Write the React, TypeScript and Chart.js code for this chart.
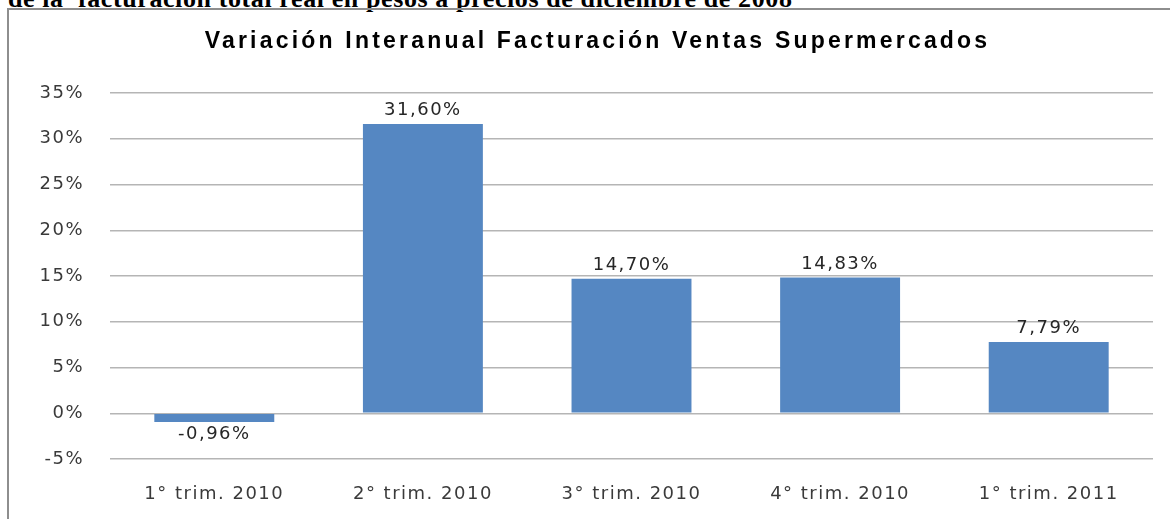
import React, { useEffect, useRef } from "react";
import { Chart, registerables } from "chart.js";

Chart.register(...registerables);

const categories = ["1° trim. 2010", "2° trim. 2010", "3° trim. 2010", "4° trim. 2010", "1° trim. 2011"];
const values = [-0.96, 31.6, 14.7, 14.83, 7.79];
const valueLabels = ["-0,96%", "31,60%", "14,70%", "14,83%", "7,79%"];
const chartTitle = "Variación Interanual Facturación Ventas Supermercados";
const headerText = "de la  facturación total real en pesos a precios de diciembre de 2008";
const yMin = -5;
const yMax = 35;
const yStep = 5;

const TICK_FONT = { family: "'DejaVu Sans', sans-serif", size: 18 };

const spacingPlugin = {
  id: "spacing",
  beforeLayout(chart: any) {
    (chart.ctx as any).letterSpacing = "1.5px";
  },
  beforeDraw(chart: any) {
    (chart.ctx as any).letterSpacing = "1.5px";
  },
};

const titlePlugin = {
  id: "customTitle",
  afterDraw(chart: any) {
    const ctx = chart.ctx;
    ctx.save();
    (ctx as any).letterSpacing = "3.2px";
    ctx.font = "bold 23px 'Liberation Sans', Arial, sans-serif";
    ctx.fillStyle = "#000";
    ctx.textAlign = "center";
    ctx.textBaseline = "middle";
    const cx = (chart.chartArea.left + chart.chartArea.right) / 2 - 34;
    ctx.fillText(chartTitle, cx, 42);
    ctx.restore();
  },
};

const dataLabelPlugin = {
  id: "dataLabels",
  afterDatasetsDraw(chart: any) {
    const ctx = chart.ctx;
    const meta = chart.getDatasetMeta(0);
    ctx.save();
    (ctx as any).letterSpacing = "1.5px";
    ctx.font = `18px ${TICK_FONT.family}`;
    ctx.fillStyle = "#262626";
    ctx.textAlign = "center";
    ctx.textBaseline = "alphabetic";
    meta.data.forEach((bar: any, i: number) => {
      const v = values[i];
      const { x, y, base } = bar.getProps(["x", "y", "base"], true);
      if (v >= 0) {
        ctx.fillText(valueLabels[i], x, y - 9);
      } else {
        ctx.fillText(valueLabels[i], x, Math.max(y, base) + 17);
      }
    });
    ctx.restore();
  },
};

export default function App() {
  const canvasRef = useRef<HTMLCanvasElement | null>(null);

  useEffect(() => {
    if (!canvasRef.current) return;
    const chart = new Chart(canvasRef.current, {
      type: "bar",
      data: {
        labels: categories,
        datasets: [
          {
            data: values,
            backgroundColor: "#5587C2",
            borderWidth: 0,
            categoryPercentage: 1,
            barPercentage: 0.575,
          },
        ],
      },
      options: {
        responsive: false,
        animation: false,
        layout: { padding: { top: 93, right: 17, left: 0, bottom: 0 } },
        plugins: {
          legend: { display: false },
          tooltip: { enabled: false },
          title: { display: false },
        },
        scales: {
          y: {
            min: yMin,
            max: yMax,
            ticks: {
              stepSize: yStep,
              callback: (v: any) => `${v}%`,
              font: TICK_FONT,
              color: "#3a3a3a",
              padding: 26,
            },
            grid: { color: "#b5b5b5", lineWidth: 1.5, drawTicks: false },
            border: { display: false },
            afterFit: (scale: any) => {
              scale.width = 110;
            },
          },
          x: {
            ticks: { font: TICK_FONT, color: "#3a3a3a", padding: 25 },
            grid: { display: false, drawTicks: false },
            border: { display: false },
            afterFit: (scale: any) => {
              scale.height = 60;
            },
          },
        },
      },
      plugins: [spacingPlugin, dataLabelPlugin, titlePlugin],
    });
    return () => chart.destroy();
  }, []);

  return (
    <div
      style={{
        position: "fixed",
        left: 0,
        top: 0,
        width: 1170,
        height: 519,
        overflow: "hidden",
        background: "#fff",
      }}
    >
      <div
        style={{
          position: "absolute",
          left: 8,
          top: -14,
          font: "bold 26px 'Liberation Serif', serif",
          lineHeight: "26px",
          letterSpacing: "0.6px",
          whiteSpace: "pre",
          color: "#000",
        }}
      >
        {headerText}
      </div>
      <div
        style={{
          position: "absolute",
          left: 7,
          top: 8,
          width: 1300,
          height: 600,
          border: "2.5px solid #8e8e8e",
          boxSizing: "border-box",
          background: "transparent",
        }}
      />
      <canvas
        ref={canvasRef}
        width={1170}
        height={519}
        style={{ position: "absolute", left: 0, top: 0, width: 1170, height: 519 }}
      />
    </div>
  );
}
